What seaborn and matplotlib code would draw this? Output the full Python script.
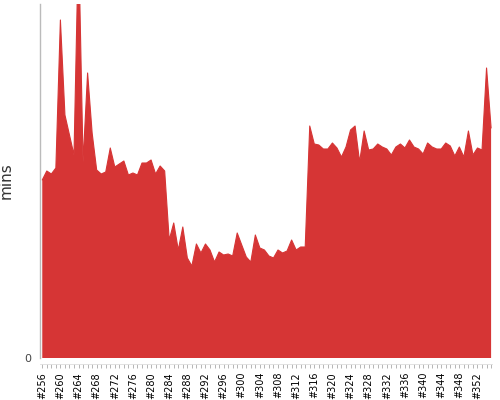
import numpy as np
import pandas as pd
import matplotlib
matplotlib.use("Agg")
import matplotlib.pyplot as plt
import seaborn as sns

builds = list(range(256, 356))
mins = [178, 187, 184, 190, 338, 243, 223, 203, 420, 196,
        285, 225, 188, 184, 186, 210, 191, 194, 197, 183,
        185, 183, 195, 195, 198, 184, 192, 187, 118, 135,
        108, 131, 100, 92, 114, 105, 114, 108, 96, 106,
        103, 104, 102, 125, 113, 101, 96, 123, 110, 108,
        102, 100, 108, 105, 107, 118, 108, 111, 111, 232,
        214, 213, 209, 209, 215, 210, 201, 211, 228, 232,
        196, 227, 208, 209, 214, 211, 209, 203, 211, 214,
        210, 218, 211, 209, 204, 215, 211, 209, 209, 215,
        212, 202, 211, 201, 227, 203, 210, 208, 290, 230]
tick_builds = list(range(256, 356, 4))

df = pd.DataFrame({"build": builds, "mins": mins})
df["idx"] = np.arange(len(df))

sns.set_style("white")
fig = plt.figure(figsize=(5, 4), dpi=100)
ax = fig.add_axes([0.08, 0.105, 0.904, 0.885])

color = "#d63535"
ax.fill_between(df["idx"], 0, df["mins"], color=color, linewidth=0)
sns.lineplot(data=df, x="idx", y="mins", ax=ax, color=color, linewidth=0.8)

ax.set_xlim(-0.5, 99.2)
ax.set_ylim(0, 354)

major = [builds.index(b) for b in tick_builds]
ax.set_xticks(major, ["#%d" % b for b in tick_builds])
ax.set_xticks(np.arange(len(builds)), minor=True)
ax.tick_params(axis="x", which="both", length=3, width=0.6, color="#aaaaaa",
               pad=3, bottom=True, labelsize=7, labelcolor="black",
               labelrotation=90)
ax.set_yticks([0], ["0"])
ax.tick_params(axis="y", length=0, pad=6, labelsize=8, labelcolor="#444444")

ax.set_xlabel("")
ax.set_ylabel("mins", fontsize=11, color="#333333", labelpad=8)

for s in ["top", "right"]:
    ax.spines[s].set_visible(False)
ax.spines["left"].set_color("#bbbbbb")
ax.spines["left"].set_linewidth(1)
ax.spines["bottom"].set_visible(True)
ax.spines["bottom"].set_color("#dddddd")
ax.spines["bottom"].set_linewidth(0.6)
ax.spines["bottom"].set_position(("outward", 4))

fig.savefig("out.png", dpi=100)
